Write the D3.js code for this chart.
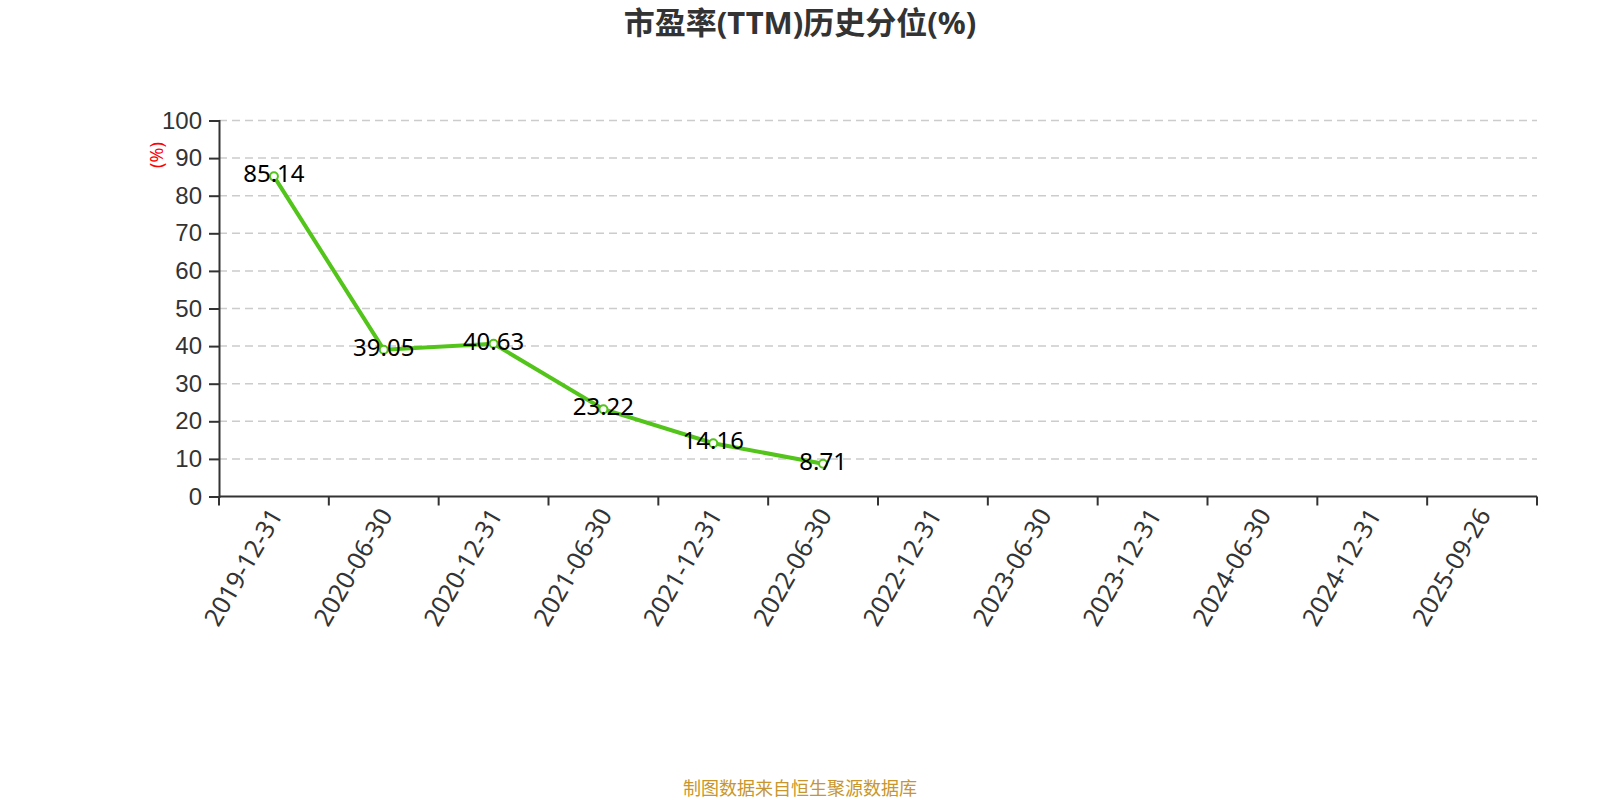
<!DOCTYPE html>
<html>
<head>
<meta charset="utf-8">
<script src="https://cdn.jsdelivr.net/npm/d3@7"></script>
<style>
  body { margin: 0; background: #fff; }
  svg { display: block; font-family: "Noto Sans", "Noto Sans CJK SC", sans-serif; }
</style>
</head>
<body>
<svg id="chart"></svg>
<script>
// Chart data
const dates = [
  "2019-12-31", "2020-06-30", "2020-12-31", "2021-06-30", "2021-12-31", "2022-06-30",
  "2022-12-31", "2023-06-30", "2023-12-31", "2024-06-30", "2024-12-31", "2025-09-26"
];
const peValues = [85.14, 39.05, 40.63, 23.22, 14.16, 8.71];
const yTicks = [0, 10, 20, 30, 40, 50, 60, 70, 80, 90, 100];

const CANVAS_WIDTH = 1600;
const CANVAS_HEIGHT = 800;
const margin = { left: 219, right: 63, top: 120.5, bottom: 303.5 };
const plotW = CANVAS_WIDTH - margin.left - margin.right;
const plotH = CANVAS_HEIGHT - margin.top - margin.bottom;

const svg = d3.select("#chart")
  .attr("width", CANVAS_WIDTH)
  .attr("height", CANVAS_HEIGHT);

const x = d3.scaleBand().domain(dates).range([0, plotW]);
const y = d3.scaleLinear().domain([0, 100]).range([plotH, 0]);

const g = svg.append("g").attr("transform", `translate(${margin.left},${margin.top})`);

// dashed grid lines
g.selectAll(".grid")
  .data(yTicks.filter(d => d > 0))
  .enter()
  .append("line")
  .attr("x1", 0)
  .attr("x2", plotW)
  .attr("y1", d => y(d))
  .attr("y2", d => y(d))
  .attr("stroke", "#cccccc")
  .attr("stroke-width", 1.5)
  .attr("stroke-dasharray", "8,5");

// y axis
const yAxis = g.append("g")
  .call(d3.axisLeft(y).tickValues(yTicks).tickSize(10).tickPadding(7));
yAxis.select(".domain").attr("stroke", "#333").attr("stroke-width", 2);
yAxis.selectAll(".tick line").attr("stroke", "#333").attr("stroke-width", 2);
yAxis.selectAll(".tick text")
  .attr("fill", "#333")
  .style("font-size", "24px");

// x axis, ticks at band boundaries
const xAxisG = g.append("g").attr("transform", `translate(0,${plotH})`);
xAxisG.append("line")
  .attr("x1", 0).attr("x2", plotW)
  .attr("stroke", "#333").attr("stroke-width", 2);
const boundaries = dates.map(d => x(d)).concat([plotW]);
xAxisG.selectAll(".xtick")
  .data(boundaries)
  .enter()
  .append("line")
  .attr("x1", d => d).attr("x2", d => d)
  .attr("y1", 0).attr("y2", 9)
  .attr("stroke", "#333").attr("stroke-width", 2);
xAxisG.selectAll(".xlabel")
  .data(dates)
  .enter()
  .append("text")
  .attr("transform", d => `translate(${x(d) + x.bandwidth() / 2 + 2},${14}) rotate(-60)`)
  .attr("text-anchor", "end")
  .attr("dy", "0.35em")
  .attr("fill", "#333")
  .style("font-size", "25px")
  .text(d => d);

// y axis unit label
svg.append("text")
  .attr("transform", "translate(157,155) rotate(-90)")
  .attr("text-anchor", "middle")
  .attr("dy", "0.35em")
  .attr("fill", "red")
  .style("font-size", "18px")
  .text("(%)");

// the line
const points = peValues.map((v, i) => [dates[i], v]);
const line = d3.line()
  .x(d => x(d[0]) + x.bandwidth() / 2)
  .y(d => y(d[1]));

g.append("path")
  .datum(points)
  .attr("d", line)
  .attr("fill", "none")
  .attr("stroke", "#52c41a")
  .attr("stroke-width", 4);

g.selectAll(".dot")
  .data(points)
  .enter()
  .append("circle")
  .attr("cx", d => x(d[0]) + x.bandwidth() / 2)
  .attr("cy", d => y(d[1]))
  .attr("r", 4)
  .attr("fill", "#fff")
  .attr("stroke", "#52c41a")
  .attr("stroke-width", 2);

// value labels
g.selectAll(".val")
  .data(points)
  .enter()
  .append("text")
  .attr("x", d => x(d[0]) + x.bandwidth() / 2)
  .attr("y", d => y(d[1]) + 6)
  .attr("text-anchor", "middle")
  .attr("fill", "#000")
  .style("font-size", "24px")
  .text(d => d[1].toFixed(2));

// title
svg.append("text")
  .attr("x", 800)
  .attr("y", 34)
  .attr("text-anchor", "middle")
  .attr("fill", "#333")
  .style("font-size", "31px")
  .style("font-weight", "bold")
  .text("市盈率(TTM)历史分位(%)");

// source note
svg.append("text")
  .attr("x", 800)
  .attr("y", 795)
  .attr("text-anchor", "middle")
  .attr("fill", "#c8962d")
  .style("font-size", "18px")
  .text("制图数据来自恒生聚源数据库");
</script>
</body>
</html>
